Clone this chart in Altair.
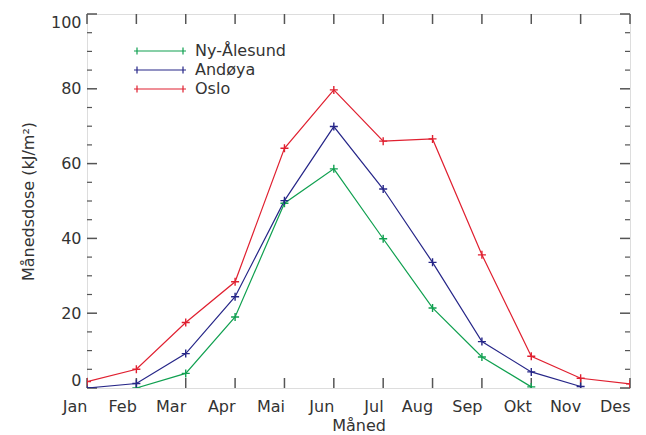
import altair as alt
import pandas as pd

months = ["Jan", "Feb", "Mar", "Apr", "Mai", "Jun", "Jul", "Aug", "Sep", "Okt", "Nov", "Des"]
series_names = ["Ny-Ålesund", "Andøya", "Oslo"]
ny_alesund = [None, 0.0, 3.9, 19.0, 49.4, 58.6, 39.9, 21.4, 8.3, 0.3, None, None]
andoya = [0.0, 1.2, 9.2, 24.4, 50.1, 69.9, 53.2, 33.6, 12.4, 4.3, 0.4, None]
oslo = [1.7, 5.0, 17.5, 28.4, 64.1, 79.7, 66.0, 66.6, 35.6, 8.5, 2.6, 1.1]
colors = ["#10a050", "#262688", "#e02030"]

y_major = [0, 20, 40, 60, 80, 100]
y_minor = [v for v in range(0, 101, 5) if v % 20 != 0]

rows = []
for name, vals in zip(series_names, [ny_alesund, andoya, oslo]):
    for m, v in zip(months, vals):
        if v is not None:
            rows.append({"Måned": m, "Verdi": v, "Stasjon": name})
df = pd.DataFrame(rows)

W, H = 543, 374
FONT = "DejaVu Sans"

xscale = alt.Scale(type="point", domain=months, padding=0)
yscale = alt.Scale(domain=[0, 100], nice=False, zero=True)
cscale = alt.Scale(domain=series_names, range=colors)

x_enc = alt.X("Måned:N", scale=xscale, sort=months,
              axis=alt.Axis(title="Måned", ticks=False, domain=False, grid=False,
                            labelAngle=0, labelPadding=18, labelFontSize=16,
                            titleFontSize=16, titleFontWeight="normal", titlePadding=3,
                            labelFont=FONT, titleFont=FONT, labelColor="#333", titleColor="#333"))
y_enc = alt.Y("Verdi:Q", scale=yscale,
              axis=alt.Axis(title="Månedsdose (kJ/m²)", values=y_major, ticks=False, domain=False,
                            grid=False, labelPadding=6, labelFontSize=16, titleFontSize=16,
                            labelFlush=True, labelFlushOffset=0,
                            titleFontWeight="normal", titlePadding=14, labelFont=FONT, titleFont=FONT,
                            labelColor="#333", titleColor="#333"))

legend_sym = "M-5.2,0H5.2M-4.6,-0.7V0.7M4.6,-0.7V0.7"

lines = alt.Chart(df).mark_line(strokeWidth=1.2, clip=True).encode(
    x=x_enc, y=y_enc,
    color=alt.Color("Stasjon:N", scale=cscale, sort=series_names,
                    legend=alt.Legend(title=None, orient="none", legendX=65, legendY=29,
                                      symbolType=legend_sym, symbolSize=100, symbolStrokeWidth=1.2,
                                      labelOffset=27, labelFontSize=16, labelFont=FONT,
                                      labelColor="#333", rowPadding=3, padding=0)),
    order=alt.Order("Stasjon:N"),
)
points = alt.Chart(df).mark_point(shape="M-1,0H1M0,-1V1", size=64, filled=False,
                                  strokeWidth=1.4, clip=True, opacity=1).encode(
    x=alt.X("Måned:N", scale=xscale, sort=months),
    y=alt.Y("Verdi:Q", scale=yscale),
    color=alt.Color("Stasjon:N", scale=cscale, legend=None),
)

xt = pd.DataFrame({"Måned": months})
ymj = pd.DataFrame({"Verdi": y_major})
ymn = pd.DataFrame({"Verdi": y_minor})
tick_col = "#555"
x_bot = alt.Chart(xt).mark_rule(color=tick_col, strokeWidth=1.5).encode(
    x=alt.X("Måned:N", scale=xscale), y=alt.value(H - 10), y2=alt.value(H))
x_top = alt.Chart(xt).mark_rule(color=tick_col, strokeWidth=1.5).encode(
    x=alt.X("Måned:N", scale=xscale), y=alt.value(0), y2=alt.value(10))
y_l_mj = alt.Chart(ymj).mark_rule(color=tick_col, strokeWidth=1.5).encode(
    y=alt.Y("Verdi:Q", scale=yscale), x=alt.value(0), x2=alt.value(10))
y_r_mj = alt.Chart(ymj).mark_rule(color=tick_col, strokeWidth=1.5).encode(
    y=alt.Y("Verdi:Q", scale=yscale), x=alt.value(W - 10), x2=alt.value(W))
y_l_mn = alt.Chart(ymn).mark_rule(color=tick_col, strokeWidth=1.2).encode(
    y=alt.Y("Verdi:Q", scale=yscale), x=alt.value(0), x2=alt.value(5))
y_r_mn = alt.Chart(ymn).mark_rule(color=tick_col, strokeWidth=1.2).encode(
    y=alt.Y("Verdi:Q", scale=yscale), x=alt.value(W - 5), x2=alt.value(W))

chart = alt.layer(x_bot, x_top, y_l_mj, y_r_mj, y_l_mn, y_r_mn, lines, points).properties(
    width=W, height=H,
    autosize=alt.AutoSizeParams(type="none"),
    padding={"left": 79, "top": 6, "right": 8, "bottom": 47},
).configure_view(stroke="#222", strokeWidth=1.5).configure(background="white")

chart.save("out.html", embed_options={"renderer": "svg", "actions": False})
